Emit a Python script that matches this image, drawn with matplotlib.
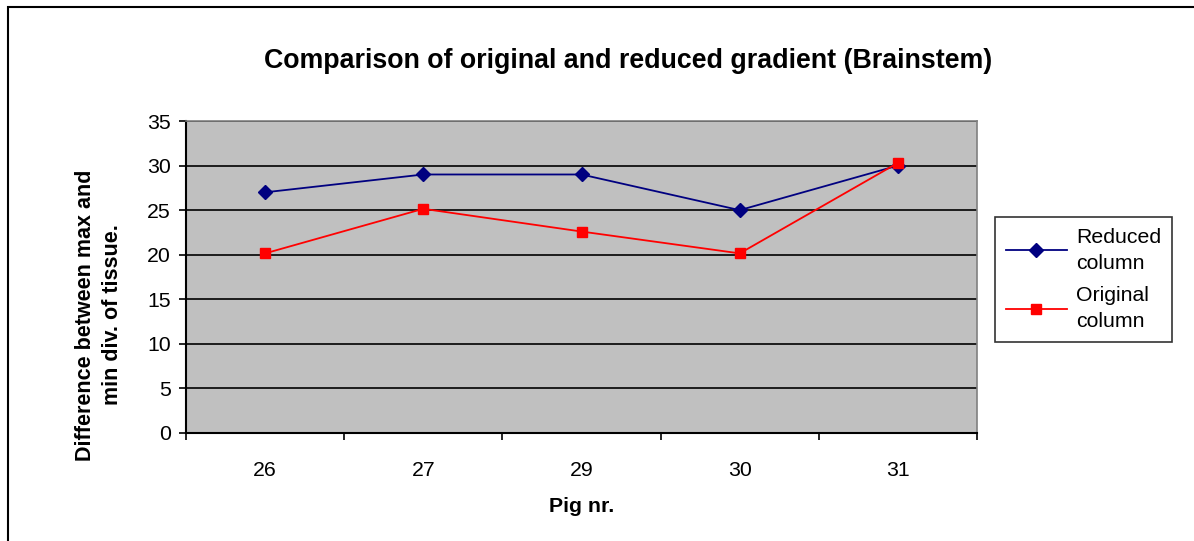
import matplotlib
matplotlib.use('Agg')

import matplotlib.pyplot as plt
from matplotlib.patches import Rectangle

# data
pigs = ['26', '27', '29', '30', '31']
reduced = [27.0, 29.0, 29.0, 25.0, 30.0]
original = [20.15, 25.15, 22.6, 20.15, 30.3]
y_ticks = [0, 5, 10, 15, 20, 25, 30, 35]

W, H = 1194, 541
plt.rcParams['font.family'] = ['Liberation Sans', 'DejaVu Sans']

fig = plt.figure(figsize=(W / 100, H / 100), dpi=100)

# outer chart frame (only left and top edges visible)
fig.patches.append(Rectangle((8 / W, -0.1), 2.0, 1 - 7 / H + 0.1,
                             transform=fig.transFigure, fill=False,
                             edgecolor='black', linewidth=1.5))

left, right, top, bottom = 186, 977, 121, 433
ax = fig.add_axes([left / W, 1 - bottom / H, (right - left) / W, (bottom - top) / H])
ax.set_facecolor('#c0c0c0')

x = list(range(len(pigs)))
ax.plot(x, reduced, color='#000080', marker='D', markersize=7,
        linewidth=1.3, label='Reduced\ncolumn', zorder=3)
ax.plot(x, original, color='#ff0000', marker='s', markersize=7.5,
        linewidth=1.3, label='Original\ncolumn', zorder=4)

ax.set_xlim(-0.5, len(pigs) - 0.5)
ax.set_ylim(0, 35)
ax.set_yticks(y_ticks)
ax.set_yticklabels([str(v) for v in y_ticks], fontsize=15.3)
ax.set_xticks(x)
ax.set_xticklabels(pigs, fontsize=15.3)
ax.set_xticks([i - 0.5 for i in range(len(pigs) + 1)], minor=True)
ax.tick_params(axis='x', which='major', length=0, pad=20)
ax.tick_params(axis='x', which='minor', length=5, width=1.2, direction='out')
ax.tick_params(axis='y', length=5, width=1.2, direction='out', pad=6)

ax.grid(axis='y', color='black', linewidth=1.2)
ax.set_axisbelow(True)
for side in ['right', 'top']:
    ax.spines[side].set_color('#808080')
    ax.spines[side].set_linewidth(1.2)
for side in ['left', 'bottom']:
    ax.spines[side].set_linewidth(1.5)

fig.text((263 + 993) / 2 / W, 1 - 61 / H,
         'Comparison of original and reduced gradient (Brainstem)',
         ha='center', va='center', fontsize=19.3, fontweight='bold')
fig.text(582 / W, 1 - 506 / H, 'Pig nr.', ha='center', va='center',
         fontsize=15.3, fontweight='bold')
fig.text(99 / W, 1 - 315 / H, 'Difference between max and\nmin div. of tissue.',
         ha='center', va='center', rotation=90, fontsize=15.5,
         fontweight='bold', linespacing=1.35)

leg = fig.legend(loc='upper left', bbox_to_anchor=(995 / W, 1 - 217 / H),
                 fontsize=15.3, frameon=True, fancybox=False, edgecolor='black',
                 handlelength=2.9, handletextpad=0.4, labelspacing=0.6,
                 borderpad=0.5, borderaxespad=0)
leg.get_frame().set_linewidth(1.2)
for t in leg.get_texts():
    t.set_linespacing(1.5)

fig.savefig('out.png', dpi=100)
